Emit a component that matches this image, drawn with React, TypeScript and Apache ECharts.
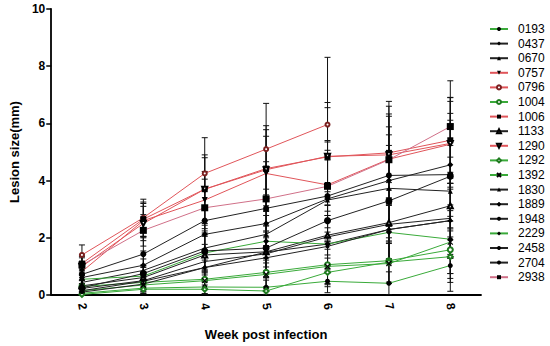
import React, { useEffect, useRef } from "react";
import * as echarts from "echarts";

const weeks = ["2", "3", "4", "5", "6", "7", "8"];
const yTicks = [0, 2, 4, 6, 8, 10];

const strainNames = ["0193","0437","0670","0757","0796","1004","1006","1133","1290","1292","1392","1830","1889","1948","2229","2458","2704","2938"];

const v0193 = [0.06, 0.24, 0.28, 0.27, 0.48, 0.41, 1.03];
const v0437 = [0.61, 1.04, 2.12, 2.5, 3.36, 4.0, 4.55];
const v0670 = [0.44, 0.86, 1.64, 2.12, 3.32, 3.73, 3.63];
const v0757 = [0.82, 2.6, 3.32, 4.25, 3.85, 4.75, 5.27];
const v0796 = [1.4, 2.7, 4.25, 5.1, 5.96, null, null];
const v1004 = [0.3, 0.44, 0.55, 0.79, 1.06, 1.2, 1.58];
const v1006 = [1.1, 2.65, 3.7, 4.42, 4.83, 4.97, 5.41];
const v1133 = [0.32, 0.61, 1.4, 1.51, 2.09, 2.53, 3.12];
const v1290 = [1.0, 2.5, 3.7, 4.38, 4.85, 4.9, 5.3];
const v1292 = [0.02, 0.2, 0.2, 0.14, 0.79, 1.15, 1.34];
const v1392 = [0.15, 0.35, 0.5, 0.72, 1.0, 1.1, 1.85];
const v1830 = [0.23, 0.5, 1.17, 1.44, 2.03, 2.47, 2.68];
const v1889 = [0.15, 0.48, 0.96, 1.5, 1.78, 2.29, 2.6];
const v1948 = [0.72, 1.43, 2.6, 3.03, 3.46, 4.18, 4.21];
const v2229 = [0.55, 0.66, 1.47, 1.88, 1.78, 2.19, 1.95];
const v2458 = [0.1, 0.38, 0.96, 1.3, 1.7, 2.29, 2.6];
const v2704 = [0.25, 0.75, 1.54, 1.64, 2.6, 3.29, 4.15];
const v2938 = [1.05, 2.26, 3.05, 3.36, 3.8, 4.73, 5.89];

const e0193 = [0.06, 0.2, 0.25, 0.25, 0.4, 0.4, 0.9];
const e0437 = [0.3, 0.5, 0.9, 1.2, 1.5, 1.6, 1.8];
const e0670 = [0.25, 0.4, 0.8, 1.0, 1.4, 1.5, 1.6];
const e0757 = [0.3, 0.6, 1.0, 1.3, 1.5, 1.5, 1.5];
const e0796 = [0.35, 0.65, 1.25, 1.6, 2.35, null, null];
const e1004 = [0.2, 0.25, 0.35, 0.5, 0.7, 0.8, 1.0];
const e1006 = [0.3, 0.6, 1.2, 1.5, 1.9, 1.8, 1.5];
const e1133 = [0.2, 0.35, 0.7, 0.9, 1.3, 1.4, 1.7];
const e1290 = [0.3, 0.6, 1.1, 1.4, 1.7, 1.7, 1.6];
const e1292 = [0.02, 0.15, 0.15, 0.12, 0.5, 0.7, 0.9];
const e1392 = [0.1, 0.25, 0.3, 0.5, 0.6, 0.7, 1.1];
const e1830 = [0.15, 0.3, 0.6, 0.8, 1.1, 1.2, 1.4];
const e1889 = [0.1, 0.3, 0.5, 0.7, 1.0, 1.1, 1.3];
const e1948 = [0.35, 0.6, 1.1, 1.3, 1.6, 1.7, 1.9];
const e2229 = [0.3, 0.35, 0.7, 0.9, 1.0, 1.1, 1.2];
const e2458 = [0.08, 0.25, 0.5, 0.7, 0.9, 1.1, 1.3];
const e2704 = [0.15, 0.3, 0.7, 0.8, 1.2, 1.4, 1.8];
const e2938 = [0.3, 0.55, 1.0, 1.3, 1.6, 1.6, 1.6];

const RED = "#e0555a";
const GREEN = "#3aaa3a";
const BLACK = "#222222";
const PINK = "#d07088";

const X_PATH = "path://M0,0L10,10M10,0L0,10";
const PLUS_PATH = "path://M5,0L5,10M0,5L10,5";

type Spec = { name: string; values: (number | null)[]; errors: (number | null)[]; line: string; symbol: string; size: number; fill: string; rotate?: number; stroke?: boolean };

const specs: Spec[] = [
  { name: "0193", values: v0193, errors: e0193, line: GREEN, symbol: "circle", size: 5, fill: "#000" },
  { name: "0437", values: v0437, errors: e0437, line: BLACK, symbol: "diamond", size: 6, fill: "#000" },
  { name: "0670", values: v0670, errors: e0670, line: BLACK, symbol: "triangle", size: 5, fill: "#000" },
  { name: "0757", values: v0757, errors: e0757, line: RED, symbol: "triangle", size: 6, fill: "#000", rotate: 180 },
  { name: "0796", values: v0796, errors: e0796, line: RED, symbol: "emptyCircle", size: 4, fill: "#7a2020" },
  { name: "1004", values: v1004, errors: e1004, line: GREEN, symbol: "emptyCircle", size: 5, fill: "#1f7a1f" },
  { name: "1006", values: v1006, errors: e1006, line: RED, symbol: "rect", size: 6, fill: "#000" },
  { name: "1133", values: v1133, errors: e1133, line: BLACK, symbol: "emptyTriangle", size: 5, fill: "#000" },
  { name: "1290", values: v1290, errors: e1290, line: RED, symbol: "emptyTriangle", size: 5, fill: "#000", rotate: 180 },
  { name: "1292", values: v1292, errors: e1292, line: GREEN, symbol: "emptyDiamond", size: 5, fill: "#1f7a1f" },
  { name: "1392", values: v1392, errors: e1392, line: GREEN, symbol: X_PATH, size: 5, fill: "#000", stroke: true },
  { name: "1830", values: v1830, errors: e1830, line: BLACK, symbol: "triangle", size: 3, fill: "#000" },
  { name: "1889", values: v1889, errors: e1889, line: BLACK, symbol: PLUS_PATH, size: 5, fill: "#000", stroke: true },
  { name: "1948", values: v1948, errors: e1948, line: BLACK, symbol: "circle", size: 6, fill: "#000" },
  { name: "2229", values: v2229, errors: e2229, line: GREEN, symbol: "diamond", size: 6, fill: "#000" },
  { name: "2458", values: v2458, errors: e2458, line: BLACK, symbol: "circle", size: 4, fill: "#000" },
  { name: "2704", values: v2704, errors: e2704, line: BLACK, symbol: "circle", size: 7, fill: "#000" },
  { name: "2938", values: v2938, errors: e2938, line: PINK, symbol: "rect", size: 7, fill: "#000" },
];

const FONT = "Liberation Sans, Arial, sans-serif";

export default function App() {
  const ref = useRef<HTMLDivElement>(null);
  useEffect(() => {
    document.body.style.margin = "0";
    if (!ref.current) return;
    const chart = echarts.init(ref.current, undefined, { renderer: "svg" });

    const errData: number[][] = [];
    specs.forEach((s) => {
      s.values.forEach((v, i) => {
        const e = s.errors[i];
        if (v == null || e == null) return;
        errData.push([i, Math.max(0, v - e), v + e]);
      });
    });

    const lineSeries = specs.map((s) => ({
      name: s.name,
      type: "line",
      data: s.values,
      symbol: s.symbol,
      symbolSize: s.size,
      symbolRotate: s.rotate || 0,
      showAllSymbol: true,
      connectNulls: false,
      z: 3,
      lineStyle: { color: s.line, width: 1 },
      itemStyle: s.stroke
        ? { color: s.fill, borderColor: s.fill, borderWidth: 1.2 }
        : { color: s.fill, borderWidth: 1 },
    }));

    const errSeries = {
      type: "custom",
      name: "err",
      z: 2,
      clip: true,
      data: errData,
      encode: { x: 0, y: [1, 2] },
      renderItem: (params: any, api: any) => {
        const i = api.value(0);
        const lo = api.coord([i, api.value(1)]);
        const hi = api.coord([i, api.value(2)]);
        const w = 3;
        const st = { stroke: "#111", lineWidth: 1 };
        return {
          type: "group",
          children: [
            { type: "line", shape: { x1: lo[0], y1: lo[1], x2: hi[0], y2: hi[1] }, style: st },
            { type: "line", shape: { x1: hi[0] - w, y1: hi[1], x2: hi[0] + w, y2: hi[1] }, style: st },
            { type: "line", shape: { x1: lo[0] - w, y1: lo[1], x2: lo[0] + w, y2: lo[1] }, style: st },
          ],
        };
      },
    };

    chart.setOption({
      animation: false,
      grid: { left: 40, right: 69, top: 9, bottom: 44.5, containLabel: false },
      legend: {
        data: strainNames,
        orient: "vertical",
        left: 489,
        top: 23,
        padding: 0,
        itemWidth: 18,
        itemHeight: 5,
        itemGap: 2.6,
        textStyle: { fontFamily: FONT, fontSize: 12, color: "#000", lineHeight: 12, padding: [0, 0, 0, 5] },
        selectedMode: false,
      },
      xAxis: {
        type: "category",
        data: weeks,
        boundaryGap: true,
        name: "Week post infection",
        nameLocation: "middle",
        nameGap: 33,
        nameTextStyle: { fontFamily: FONT, fontSize: 13, fontWeight: "bold", color: "#000" },
        axisLine: { lineStyle: { color: "#000", width: 1.8 } },
        axisTick: { alignWithLabel: true, length: 5, lineStyle: { color: "#000", width: 1.5 } },
        axisLabel: { rotate: -80, fontFamily: FONT, fontSize: 12, fontWeight: "bold", color: "#000", margin: 8 },
        splitLine: { show: false },
      },
      yAxis: {
        type: "value",
        min: yTicks[0],
        max: yTicks[yTicks.length - 1],
        interval: 2,
        name: "Lesion size(mm)",
        nameLocation: "middle",
        nameGap: 30,
        nameTextStyle: { fontFamily: FONT, fontSize: 13, fontWeight: "bold", color: "#000" },
        axisLine: { show: true, lineStyle: { color: "#000", width: 1.8 } },
        axisTick: { show: true, length: 5, lineStyle: { color: "#000", width: 1.5 } },
        axisLabel: { fontFamily: FONT, fontSize: 12, fontWeight: "bold", color: "#000", margin: 6 },
        splitLine: { show: false },
      },
      series: [errSeries, ...lineSeries],
    });
    return () => chart.dispose();
  }, []);
  return <div ref={ref} style={{ width: 550, height: 346 }} />;
}
